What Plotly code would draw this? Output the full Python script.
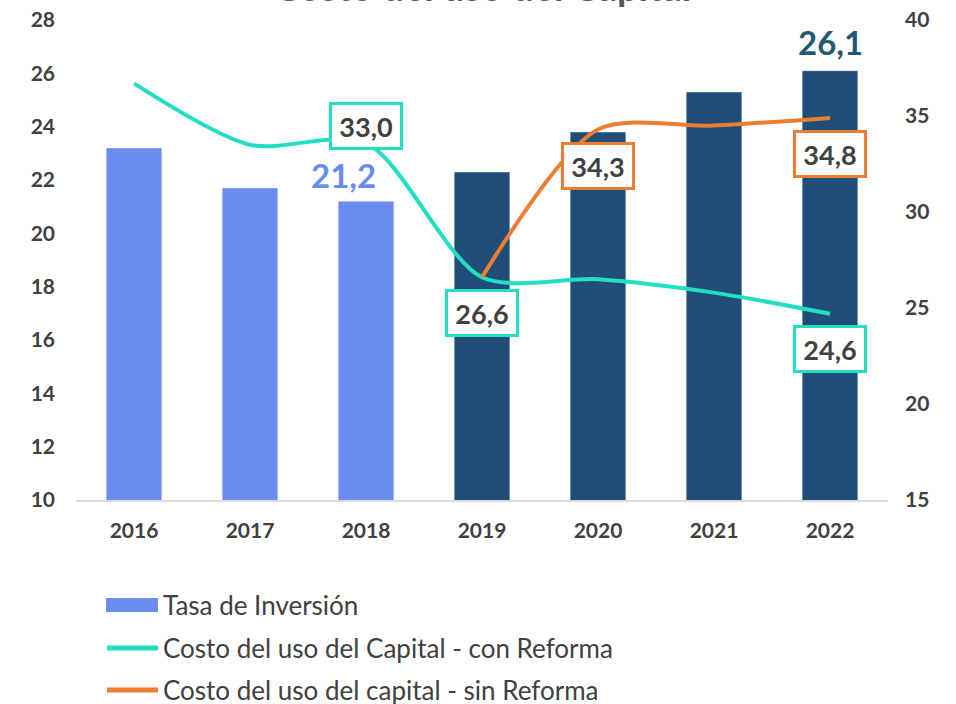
import plotly.graph_objects as go

years = ["2016", "2017", "2018", "2019", "2020", "2021", "2022"]
tasa_inversion = [23.2, 21.7, 21.2, 22.3, 23.8, 25.3, 26.1]
costo_con_reforma = [36.7, 33.5, 33.6, 26.6, 26.5, 25.8, 24.7]
costo_sin_reforma = [None, None, None, 26.6, 34.3, 34.5, 34.9]

bar_colors = ["#6A8CF0"] * 3 + ["#1F4E79"] * 4

# labels as printed on the chart: (year, text, vertical offset in px)
con_labels = [("2018", "33,0", 17), ("2019", "26,6", -36), ("2022", "24,6", -35)]
sin_labels = [("2020", "34,3", -37), ("2022", "34,8", -36)]
bar_labels = [("2018", "21,2", "#6A8CF0", -23, 26), ("2022", "26,1", "#215A6E", 0, 29)]

legend_names = ["Tasa de Inversión",
                "Costo del uso del Capital - con Reforma",
                "Costo del uso del capital - sin Reforma"]

TEAL = "#22DFC2"
ORANGE = "#ED7D31"
TXT = "#404040"
FONT = "Lato"

fig = go.Figure()
fig.add_trace(go.Bar(x=years, y=tasa_inversion, marker_color=bar_colors,
                     width=0.48, name=legend_names[0], showlegend=False))
fig.add_trace(go.Scatter(x=years, y=costo_con_reforma, yaxis="y2", mode="lines",
                         line=dict(color=TEAL, width=4, shape="spline", smoothing=0.8),
                         name=legend_names[1], showlegend=False))
fig.add_trace(go.Scatter(x=years, y=costo_sin_reforma, yaxis="y2", mode="lines",
                         line=dict(color=ORANGE, width=4, shape="spline", smoothing=0.8),
                         name=legend_names[2], showlegend=False, connectgaps=False))

annotations = []
val_con = dict(zip(years, costo_con_reforma))
val_sin = dict(zip(years, costo_sin_reforma))
val_bar = dict(zip(years, tasa_inversion))
idx = {y: i for i, y in enumerate(years)}

for yr, txt, ys in con_labels:
    annotations.append(dict(x=idx[yr], y=val_con[yr], xref="x", yref="y2", text="<b>%s</b>" % txt,
                            showarrow=False, yshift=ys, font=dict(family=FONT, size=27, color=TXT),
                            bgcolor="white", bordercolor=TEAL, borderwidth=3, borderpad=2,
                            width=64, height=38))
for yr, txt, ys in sin_labels:
    annotations.append(dict(x=idx[yr], y=val_sin[yr], xref="x", yref="y2", text="<b>%s</b>" % txt,
                            showarrow=False, yshift=ys, font=dict(family=FONT, size=27, color=TXT),
                            bgcolor="white", bordercolor=ORANGE, borderwidth=3, borderpad=2,
                            width=64, height=38))
for yr, txt, col, xs, ys in bar_labels:
    annotations.append(dict(x=idx[yr], y=val_bar[yr], xref="x", yref="y", text="<b>%s</b>" % txt,
                            showarrow=False, yshift=ys, xshift=xs,
                            font=dict(family=FONT, size=33, color=col)))

# Title (cut off at the top in the reference)
annotations.append(dict(x=0.5, y=1, xref="paper", yref="paper", yanchor="bottom",
                        text="<b>Costo del uso del Capital</b>", showarrow=False, yshift=9,
                        font=dict(family=FONT, size=38, color="#595959")))

# Manual legend
shapes = []
leg_y = [605, 648, 690]
for i, name in enumerate(legend_names):
    yp = leg_y[i]
    if i == 0:
        shapes.append(dict(type="rect", xref="paper", yref="paper",
                           x0=(106 - 76) / 812, x1=(158 - 76) / 812,
                           y0=(500 - (yp + 7)) / 480, y1=(500 - (yp - 7)) / 480,
                           fillcolor="#6A8CF0", line=dict(width=0)))
    else:
        shapes.append(dict(type="line", xref="paper", yref="paper",
                           x0=(107 - 76) / 812, x1=(158 - 76) / 812,
                           y0=(500 - yp) / 480, y1=(500 - yp) / 480,
                           line=dict(color=TEAL if i == 1 else ORANGE, width=5)))
    annotations.append(dict(x=(161 - 76) / 812, y=(500 - yp) / 480, xref="paper", yref="paper",
                            xanchor="left", yanchor="middle", text=name, showarrow=False,
                            font=dict(family=FONT, size=26, color=TXT)))

fig.update_layout(
    width=956, height=704,
    margin=dict(l=76, r=68, t=20, b=204, autoexpand=False),
    plot_bgcolor="white", paper_bgcolor="white",
    showlegend=False,
    font=dict(family=FONT, color=TXT),
    xaxis=dict(type="category", range=[-0.5, 6.5], automargin=False,
               showline=True, linecolor="#D9D9D9", linewidth=2,
               showgrid=False, ticks="", ticklabelstandoff=11,
               tickfont=dict(family=FONT, size=21, color=TXT, weight="bold")),
    yaxis=dict(range=[10, 28], dtick=2, showgrid=False, zeroline=False, showline=False,
               ticklabelstandoff=20, automargin=False,
               tickfont=dict(family=FONT, size=21, color=TXT, weight="bold")),
    yaxis2=dict(range=[15, 40], dtick=5, overlaying="y", side="right", showgrid=False,
                zeroline=False, showline=False, ticklabelstandoff=16, automargin=False,
                tickfont=dict(family=FONT, size=21, color=TXT, weight="bold")),
    annotations=annotations, shapes=shapes,
)

fig.write_html("out.html", config={"displayModeBar": False},
               post_script="document.body.style.margin='0';document.body.style.padding='0';")
